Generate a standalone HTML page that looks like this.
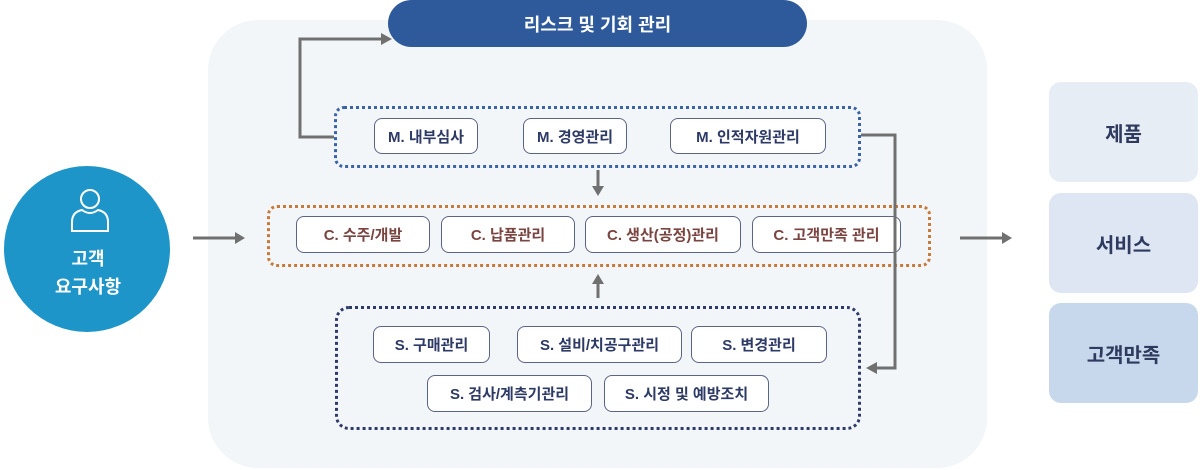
<!DOCTYPE html><html><head><meta charset="utf-8"><style>
body{margin:0;width:1200px;height:470px;background:#fff;position:relative;overflow:hidden;font-family:"Liberation Sans","Noto Sans CJK KR",sans-serif}
div{position:absolute;box-sizing:border-box}
.b{background:#fff;border:1px solid #5b6485;border-radius:8px;display:flex;align-items:center;justify-content:center;font-weight:bold;font-size:15px;color:#2e3a66}
.c{color:#7a4440}
.r{left:1049px;width:149px;height:100px;border-radius:12px;display:flex;align-items:center;justify-content:center;font-weight:bold;font-size:20px;color:#2e3a5e}
</style></head><body>
<div style="left:208px;top:20px;width:779px;height:448px;background:#f3f6f8;border-radius:50px"></div>
<div style="left:388px;top:0;width:419px;height:47px;background:#2e5a9c;border-radius:24px;color:#fff;font-weight:bold;font-size:18px;display:flex;align-items:center;justify-content:center">리스크 및 기회 관리</div>
<div style="left:334px;top:106px;width:527px;height:62px;border:3px dotted #3b63a8;border-radius:10px"></div>
<div class="b" style="left:374px;top:118px;width:104px;height:36px">M. 내부심사</div>
<div class="b" style="left:523px;top:118px;width:104px;height:36px">M. 경영관리</div>
<div class="b" style="left:670px;top:118px;width:156px;height:36px">M. 인적자원관리</div>
<div style="left:267px;top:205px;width:664px;height:62px;border:3px dotted #c87a3a;border-radius:10px"></div>
<div class="b c" style="left:296px;top:216px;width:134px;height:37px">C. 수주/개발</div>
<div class="b c" style="left:441px;top:216px;width:134px;height:37px">C. 납품관리</div>
<div class="b c" style="left:585px;top:216px;width:156px;height:37px">C. 생산(공정)관리</div>
<div class="b c" style="left:752px;top:216px;width:149px;height:37px">C. 고객만족 관리</div>
<div style="left:335px;top:306px;width:526px;height:124px;border:3px dotted #2e3a6a;border-radius:14px"></div>
<div class="b" style="left:373px;top:326px;width:117px;height:37px">S. 구매관리</div>
<div class="b" style="left:517px;top:326px;width:165px;height:37px">S. 설비/치공구관리</div>
<div class="b" style="left:691px;top:326px;width:136px;height:37px">S. 변경관리</div>
<div class="b" style="left:427px;top:375px;width:165px;height:37px">S. 검사/계측기관리</div>
<div class="b" style="left:604px;top:375px;width:165px;height:37px">S. 시정 및 예방조치</div>
<svg style="position:absolute;left:0;top:0" width="1200" height="470">
<g fill="none" stroke="#707070" stroke-width="3">
<polyline points="334,137 300,137 300,39 382,39"/>
<polyline points="861,135 895,135 895,368 874,368"/>
<line x1="598" y1="170" x2="598" y2="187"/>
<line x1="598" y1="298" x2="598" y2="283"/>
<line x1="193" y1="238" x2="236" y2="238"/>
<line x1="960" y1="238" x2="1003" y2="238"/>
</g>
<g fill="#707070">
<polygon points="392,39 381,33 381,45"/>
<polygon points="866,368 877,362 877,374"/>
<polygon points="598,196 592,186 604,186"/>
<polygon points="598,274 592,284 604,284"/>
<polygon points="245,238 235,232 235,244"/>
<polygon points="1012,238 1002,232 1002,244"/>
</g>
<circle cx="87" cy="249" r="83" fill="#1e95c8"/>
<g fill="none" stroke="#fff" stroke-width="2">
<circle cx="90" cy="199" r="9"/>
<path d="M72,231 v-9 q0,-10 10,-12 q8,6 16,0 q10,2 10,12 v9 z"/>
</g>
<text x="88" y="265" fill="#fff" font-size="18" font-weight="bold" text-anchor="middle" font-family="Liberation Sans,Noto Sans CJK KR,sans-serif">고객</text>
<text x="88" y="293" fill="#fff" font-size="18" font-weight="bold" text-anchor="middle" font-family="Liberation Sans,Noto Sans CJK KR,sans-serif">요구사항</text>
</svg>
<div class="r" style="top:82px;background:#e6edf5">제품</div>
<div class="r" style="top:193px;background:#dde6f2">서비스</div>
<div class="r" style="top:303px;background:#c8d8ec">고객만족</div>
</body></html>
